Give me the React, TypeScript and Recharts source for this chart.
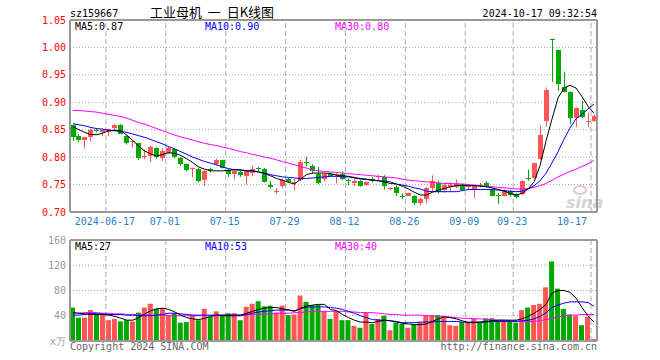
import React from 'react';
import { ComposedChart, Bar, Line, XAxis, YAxis, CartesianGrid, ReferenceLine, Cell } from 'recharts';

const RED = '#ff5555';
const GREEN = '#00a800';
const GRID = '#aaaaaa';
const FRAME = '#999999';
const MONO = '"DejaVu Sans Mono", monospace';

// trading days shown on the chart
const dates = [
  '2024-06-06', '2024-06-07', '2024-06-11', '2024-06-12', '2024-06-13', '2024-06-14', '2024-06-17', '2024-06-18',
  '2024-06-19', '2024-06-20', '2024-06-21', '2024-06-24', '2024-06-25', '2024-06-26', '2024-06-27', '2024-06-28',
  '2024-07-01', '2024-07-02', '2024-07-03', '2024-07-04', '2024-07-05', '2024-07-08', '2024-07-09', '2024-07-10',
  '2024-07-11', '2024-07-12', '2024-07-15', '2024-07-16', '2024-07-17', '2024-07-18', '2024-07-19', '2024-07-22',
  '2024-07-23', '2024-07-24', '2024-07-25', '2024-07-26', '2024-07-29', '2024-07-30', '2024-07-31', '2024-08-01',
  '2024-08-02', '2024-08-05', '2024-08-06', '2024-08-07', '2024-08-08', '2024-08-09', '2024-08-12', '2024-08-13',
  '2024-08-14', '2024-08-15', '2024-08-16', '2024-08-19', '2024-08-20', '2024-08-21', '2024-08-22', '2024-08-23',
  '2024-08-26', '2024-08-27', '2024-08-28', '2024-08-29', '2024-08-30', '2024-09-02', '2024-09-03', '2024-09-04',
  '2024-09-05', '2024-09-06', '2024-09-09', '2024-09-10', '2024-09-11', '2024-09-12', '2024-09-13', '2024-09-18',
  '2024-09-19', '2024-09-20', '2024-09-23', '2024-09-24', '2024-09-25', '2024-09-26', '2024-09-27', '2024-09-30',
  '2024-10-08', '2024-10-09', '2024-10-10', '2024-10-11', '2024-10-14', '2024-10-15', '2024-10-16', '2024-10-17',
];

const open = [
  0.858, 0.839, 0.831, 0.837, 0.849, 0.845, 0.846, 0.853, 0.859, 0.838, 0.827, 0.826, 0.801, 0.802, 0.817, 0.799,
  0.808, 0.814, 0.799, 0.787, 0.778, 0.779, 0.759, 0.778, 0.787, 0.794, 0.777, 0.769, 0.773, 0.765, 0.771, 0.780,
  0.779, 0.749, 0.737, 0.748, 0.760, 0.752, 0.758, 0.792, 0.783, 0.769, 0.760, 0.770, 0.767, 0.770, 0.759, 0.753,
  0.757, 0.749, 0.760, 0.763, 0.764, 0.742, 0.746, 0.730, 0.730, 0.730, 0.716, 0.723, 0.743, 0.752, 0.740, 0.745,
  0.746, 0.750, 0.745, 0.741, 0.750, 0.752, 0.741, 0.731, 0.730, 0.738, 0.732, 0.733, 0.762, 0.762, 0.796, 0.866,
  1.016, 0.995, 0.927, 0.919, 0.872, 0.886, 0.864, 0.865,
];
const high = [
  0.859, 0.843, 0.837, 0.852, 0.853, 0.852, 0.852, 0.860, 0.860, 0.840, 0.831, 0.826, 0.814, 0.821, 0.818, 0.816,
  0.819, 0.815, 0.800, 0.788, 0.781, 0.780, 0.777, 0.781, 0.797, 0.795, 0.779, 0.776, 0.775, 0.777, 0.785, 0.782,
  0.780, 0.757, 0.744, 0.761, 0.762, 0.760, 0.795, 0.800, 0.787, 0.782, 0.771, 0.772, 0.772, 0.774, 0.761, 0.761,
  0.758, 0.756, 0.764, 0.768, 0.767, 0.745, 0.749, 0.734, 0.735, 0.731, 0.726, 0.746, 0.767, 0.757, 0.753, 0.755,
  0.759, 0.752, 0.750, 0.749, 0.753, 0.756, 0.743, 0.735, 0.741, 0.740, 0.734, 0.758, 0.777, 0.790, 0.858, 0.927,
  1.016, 0.995, 0.956, 0.920, 0.891, 0.902, 0.881, 0.877,
];
const low = [
  0.830, 0.827, 0.816, 0.829, 0.845, 0.838, 0.838, 0.849, 0.842, 0.823, 0.817, 0.795, 0.796, 0.791, 0.797, 0.793,
  0.806, 0.798, 0.784, 0.774, 0.763, 0.754, 0.747, 0.772, 0.784, 0.779, 0.764, 0.759, 0.764, 0.750, 0.765, 0.775,
  0.754, 0.743, 0.733, 0.743, 0.753, 0.740, 0.756, 0.783, 0.770, 0.751, 0.756, 0.765, 0.752, 0.758, 0.749, 0.747,
  0.746, 0.748, 0.754, 0.756, 0.741, 0.740, 0.729, 0.724, 0.729, 0.712, 0.712, 0.716, 0.737, 0.734, 0.735, 0.737,
  0.743, 0.739, 0.742, 0.726, 0.745, 0.745, 0.729, 0.715, 0.729, 0.728, 0.725, 0.731, 0.757, 0.761, 0.795, 0.856,
  0.937, 0.921, 0.918, 0.860, 0.855, 0.871, 0.855, 0.864,
];
const close = [
  0.837, 0.831, 0.836, 0.849, 0.847, 0.849, 0.851, 0.858, 0.843, 0.826, 0.829, 0.798, 0.802, 0.818, 0.800, 0.811,
  0.817, 0.801, 0.787, 0.777, 0.780, 0.757, 0.775, 0.776, 0.794, 0.781, 0.769, 0.775, 0.767, 0.776, 0.779, 0.778,
  0.755, 0.745, 0.739, 0.759, 0.755, 0.755, 0.791, 0.790, 0.774, 0.752, 0.769, 0.766, 0.769, 0.760, 0.757, 0.756,
  0.747, 0.755, 0.758, 0.765, 0.747, 0.744, 0.734, 0.729, 0.734, 0.716, 0.723, 0.743, 0.757, 0.737, 0.750, 0.750,
  0.753, 0.740, 0.748, 0.747, 0.749, 0.748, 0.730, 0.729, 0.739, 0.731, 0.727, 0.757, 0.760, 0.789, 0.840, 0.923,
  1.015, 0.934, 0.919, 0.872, 0.889, 0.873, 0.866, 0.875,
];

// moving averages as drawn on the price panel
const ma5 = [
  0.855, 0.850, 0.845, 0.841, 0.841, 0.844, 0.848, 0.849, 0.848, 0.840, 0.830, 0.820, 0.811, 0.806, 0.802, 0.805,
  0.808, 0.807, 0.803, 0.797, 0.790, 0.782, 0.778, 0.775, 0.775, 0.775, 0.776, 0.777, 0.777, 0.775, 0.775, 0.773,
  0.770, 0.766, 0.761, 0.758, 0.754, 0.751, 0.760, 0.768, 0.771, 0.771, 0.771, 0.770, 0.767, 0.766, 0.765, 0.763,
  0.761, 0.760, 0.758, 0.757, 0.755, 0.752, 0.751, 0.747, 0.742, 0.736, 0.731, 0.731, 0.736, 0.740, 0.743, 0.746,
  0.748, 0.749, 0.748, 0.748, 0.747, 0.746, 0.744, 0.741, 0.738, 0.734, 0.731, 0.734, 0.742, 0.755, 0.785, 0.830,
  0.870, 0.908, 0.926, 0.931, 0.926, 0.910, 0.893, 0.880,
];
const ma10 = [
  0.861, 0.859, 0.857, 0.854, 0.852, 0.851, 0.849, 0.848, 0.847, 0.845, 0.842, 0.839, 0.836, 0.832, 0.828, 0.824,
  0.819, 0.815, 0.810, 0.805, 0.800, 0.796, 0.792, 0.789, 0.786, 0.782, 0.779, 0.777, 0.776, 0.775, 0.775, 0.773,
  0.771, 0.768, 0.766, 0.764, 0.763, 0.762, 0.761, 0.761, 0.762, 0.763, 0.764, 0.765, 0.765, 0.764, 0.764, 0.762,
  0.760, 0.759, 0.758, 0.757, 0.756, 0.755, 0.751, 0.749, 0.747, 0.744, 0.742, 0.738, 0.737, 0.737, 0.737, 0.737,
  0.737, 0.739, 0.741, 0.741, 0.741, 0.741, 0.741, 0.740, 0.739, 0.738, 0.737, 0.738, 0.742, 0.748, 0.757, 0.771,
  0.790, 0.810, 0.833, 0.853, 0.870, 0.878, 0.888, 0.897,
];
const ma30 = [
  0.885, 0.885, 0.884, 0.883, 0.882, 0.880, 0.878, 0.876, 0.874, 0.871, 0.867, 0.863, 0.860, 0.856, 0.852, 0.848,
  0.844, 0.840, 0.837, 0.834, 0.831, 0.828, 0.825, 0.823, 0.821, 0.818, 0.816, 0.813, 0.810, 0.808, 0.805, 0.803,
  0.800, 0.798, 0.795, 0.792, 0.789, 0.786, 0.783, 0.780, 0.777, 0.775, 0.774, 0.773, 0.772, 0.771, 0.770, 0.769,
  0.768, 0.767, 0.766, 0.765, 0.764, 0.763, 0.762, 0.760, 0.758, 0.757, 0.756, 0.755, 0.754, 0.753, 0.752, 0.752,
  0.751, 0.751, 0.750, 0.749, 0.748, 0.747, 0.746, 0.745, 0.744, 0.743, 0.742, 0.742, 0.743, 0.745, 0.748, 0.752,
  0.758, 0.764, 0.769, 0.774, 0.778, 0.783, 0.788, 0.794,
];

// volume panel (万)
const volume = [
  53, 37, 37, 49, 42, 42, 33, 35, 31, 33, 31, 45, 53, 59, 51, 52, 41, 44, 29, 30, 41, 33, 51, 38, 47, 41, 44, 44, 33, 54,
  59, 63, 55, 56, 45, 56, 41, 42, 72, 62, 57, 57, 47, 35, 47, 33, 33, 24, 21, 45, 27, 35, 40, 17, 29, 27, 21, 26, 30, 41,
  41, 41, 40, 25, 24, 30, 29, 36, 30, 36, 36, 33, 33, 30, 29, 49, 53, 57, 59, 85, 126, 83, 51, 42, 40, 25, 38, 3,
];
const volMa5 = [
  45, 44, 43, 42, 42, 42, 41, 39, 36, 33, 33, 37, 43, 48, 51, 52, 50, 46, 41, 37, 35, 34, 36, 39, 41, 41, 41, 41, 41, 44,
  47, 50, 52, 53, 53, 51, 49, 47, 52, 55, 57, 58, 58, 50, 48, 42, 37, 33, 30, 30, 29, 31, 33, 32, 30, 28, 27, 26, 26, 27,
  31, 35, 38, 37, 35, 32, 29, 29, 30, 31, 32, 33, 33, 33, 33, 35, 39, 44, 50, 58, 76, 80, 80, 77, 68, 53, 40, 30,
];
const volMa10 = [
  41, 41, 42, 44, 43, 43, 42, 42, 42, 41, 41, 40, 40, 40, 41, 42, 44, 44, 43, 42, 41, 41, 41, 41, 41, 40, 40, 40, 40, 42,
  44, 46, 47, 48, 49, 49, 49, 48, 51, 54, 54, 54, 54, 53, 52, 50, 47, 44, 40, 37, 34, 33, 33, 32, 31, 29, 29, 29, 30, 30,
  30, 31, 31, 31, 31, 30, 30, 30, 30, 30, 31, 31, 31, 31, 31, 32, 33, 35, 39, 45, 53, 57, 60, 62, 62, 62, 61, 55,
];
const volMa30 = [
  44, 44, 45, 45, 45, 44, 44, 43, 43, 42, 42, 42, 42, 41, 41, 41, 40, 40, 40, 40, 40, 40, 40, 40, 40, 41, 41, 41, 41, 41,
  42, 42, 43, 43, 44, 44, 44, 45, 45, 46, 47, 47, 47, 47, 47, 47, 46, 46, 45, 45, 45, 44, 43, 42, 42, 41, 41, 41, 41, 40,
  40, 39, 39, 38, 37, 36, 36, 35, 35, 34, 34, 33, 33, 32, 32, 31, 31, 31, 32, 34, 36, 38, 40, 41, 41, 42, 42, 42,
];

const tickDates = [
  '2024-06-17', '2024-07-01', '2024-07-15', '2024-07-29', '2024-08-12',
  '2024-08-26', '2024-09-09', '2024-09-23', '2024-10-17',
];
const priceTicks = [0.7, 0.75, 0.8, 0.85, 0.9, 0.95, 1.0, 1.05];
const volTicks = [0, 40, 80, 120, 160];

const priceLegend = { ma5: 'MA5:0.87', ma10: 'MA10:0.90', ma30: 'MA30:0.80' };
const volLegend = { ma5: 'MA5:27', ma10: 'MA10:53', ma30: 'MA30:40' };

const rows = dates.map((date, i) => ({
  date,
  open: open[i],
  high: high[i],
  low: low[i],
  close: close[i],
  range: [low[i], high[i]],
  ma5: ma5[i],
  ma10: ma10[i],
  ma30: ma30[i],
  vol: volume[i],
  vma5: volMa5[i],
  vma10: volMa10[i],
  vma30: volMa30[i],
}));

const candleColor = (i: number) => (close[i] > open[i] ? RED : GREEN);

const Candle = (props: any) => {
  const { x, y, width, height, payload } = props;
  if (x == null || y == null) return null;
  const top = Math.min(y, y + height);
  const bottom = Math.max(y, y + height);
  const span = payload.high - payload.low;
  const toPx = (v: number) => top + ((payload.high - v) / span) * (bottom - top);
  const cx = Math.round(x + width / 2);
  const color = payload.close > payload.open ? RED : GREEN;
  const bTop = Math.round(toPx(Math.max(payload.open, payload.close)));
  const bBot = Math.round(toPx(Math.min(payload.open, payload.close)));
  return (
    <g>
      <line x1={cx + 0.5} x2={cx + 0.5} y1={top} y2={bottom} stroke={color} strokeWidth={1} />
      <rect x={cx - 2} y={bTop} width={5} height={Math.max(1, bBot - bTop)} fill={color} />
    </g>
  );
};

const DateTick = (props: any) => {
  const { x, y, payload } = props;
  const i = tickDates.indexOf(payload.value);
  const last = i === tickDates.length - 1;
  const label = i === 0 ? payload.value : String(payload.value).slice(5);
  return (
    <text
      x={last ? x - 7 : x - 4}
      y={y + 13}
      textAnchor={last ? 'end' : 'middle'}
      fill="#1f80d0"
      fontSize={10}
      fontFamily={MONO}
    >
      {label}
    </text>
  );
};

function PriceChart() {
  return (
    <ComposedChart width={660} height={232} data={rows} margin={{ top: 20, right: 63, bottom: 0, left: 0 }}>
      <CartesianGrid vertical={false} stroke={GRID} strokeDasharray="1 2" />
      {tickDates.map((d) => (
        <ReferenceLine key={d} x={d} position="start" stroke={GRID} strokeDasharray="5 3" />
      ))}
      <XAxis
        dataKey="date"
        ticks={tickDates}
        interval={0}
        height={20}
        tickSize={0}
        tickMargin={0}
        tickLine={false}
        axisLine={{ stroke: FRAME, strokeWidth: 2 }}
        tick={<DateTick />}
      />
      <YAxis
        width={70}
        domain={[0.7, 1.05]}
        ticks={priceTicks}
        allowDataOverflow
        tickSize={0}
        tickMargin={4}
        tickLine={false}
        axisLine={{ stroke: FRAME, strokeWidth: 2 }}
        tickFormatter={(v: number) => v.toFixed(2)}
        tick={{ fill: '#ff0000', fontSize: 10, fontFamily: MONO }}
      />
      <ReferenceLine y={1.05} stroke={FRAME} strokeWidth={2} />
      <ReferenceLine x={dates[dates.length - 1]} position="end" stroke={FRAME} strokeWidth={2} />
      <Bar dataKey="range" barSize={5} shape={<Candle />} isAnimationActive={false} />
      <Line type="linear" dataKey="ma30" stroke="#ff00ff" strokeWidth={1} dot={false} isAnimationActive={false} />
      <Line type="linear" dataKey="ma10" stroke="#0000ff" strokeWidth={1} dot={false} isAnimationActive={false} />
      <Line type="linear" dataKey="ma5" stroke="#000000" strokeWidth={1} dot={false} isAnimationActive={false} />
    </ComposedChart>
  );
}

function VolumeChart() {
  return (
    <ComposedChart width={660} height={128} data={rows} margin={{ top: 8, right: 63, bottom: 19, left: 0 }}>
      <CartesianGrid vertical={false} stroke={GRID} strokeDasharray="1 2" />
      {tickDates.map((d) => (
        <ReferenceLine key={d} x={d} position="start" stroke={GRID} strokeDasharray="5 3" />
      ))}
      <XAxis dataKey="date" hide />
      <YAxis
        width={70}
        domain={[0, 160]}
        ticks={volTicks}
        allowDataOverflow
        tickSize={0}
        tickMargin={4}
        tickLine={false}
        axisLine={{ stroke: FRAME, strokeWidth: 2 }}
        tickFormatter={(v: number) => (v === 0 ? 'x万' : String(v))}
        tick={{ fill: '#999999', fontSize: 10, fontFamily: MONO }}
      />
      <ReferenceLine y={160} stroke={FRAME} strokeWidth={2} />
      <ReferenceLine y={0} stroke={FRAME} strokeWidth={2} />
      <ReferenceLine x={dates[dates.length - 1]} position="end" stroke={FRAME} strokeWidth={2} />
      <Bar dataKey="vol" barSize={5} isAnimationActive={false}>
        {rows.map((r, i) => (
          <Cell key={r.date} fill={candleColor(i)} />
        ))}
      </Bar>
      <Line type="linear" dataKey="vma30" stroke="#ff00ff" strokeWidth={1} dot={false} isAnimationActive={false} />
      <Line type="linear" dataKey="vma10" stroke="#0000ff" strokeWidth={1} dot={false} isAnimationActive={false} />
      <Line type="linear" dataKey="vma5" stroke="#000000" strokeWidth={1} dot={false} isAnimationActive={false} />
    </ComposedChart>
  );
}

export default function App() {
  const txt = { fontFamily: MONO, fontSize: 10 };
  return (
    <div style={{ position: 'absolute', left: 0, top: 0, width: 660, height: 360, background: '#fff', overflow: 'hidden' }}>
      <svg width={660} height={360} style={{ position: 'absolute', left: 0, top: 0 }}>
        <text x={70} y={17} {...txt} fill="#000">sz159667</text>
        <text x={150} y={17} fontFamily='"Noto Sans CJK SC", sans-serif' fontSize={13} fill="#000" style={{ whiteSpace: 'pre' }}>
          {'工业母机  一  日K线图'}
        </text>
        <text x={597} y={17} {...txt} fill="#000" textAnchor="end">2024-10-17 09:32:54</text>
        <text x={75} y={30} {...txt} fill="#000">{priceLegend.ma5}</text>
        <text x={205} y={30} {...txt} fill="#0000ff">{priceLegend.ma10}</text>
        <text x={335} y={30} {...txt} fill="#ff00ff">{priceLegend.ma30}</text>
        <text x={75} y={250} {...txt} fill="#000">{volLegend.ma5}</text>
        <text x={205} y={250} {...txt} fill="#0000ff">{volLegend.ma10}</text>
        <text x={335} y={250} {...txt} fill="#ff00ff">{volLegend.ma30}</text>
        <text x={70} y={350} {...txt} fill="#666">Copyright 2024 SINA.COM</text>
        <text x={597} y={350} {...txt} fill="#666" textAnchor="end">http://finance.sina.com.cn</text>
        <ellipse cx={580} cy={190} rx={6} ry={4} fill="none" stroke="#e6c8c8" strokeWidth={2} />
        <text x={566} y={208} fontFamily="DejaVu Sans, sans-serif" fontSize={16} fontWeight="bold" fontStyle="italic" fill="#d4d4d4">sina</text>
      </svg>
      <div style={{ position: 'absolute', left: 0, top: 0 }}>
        <PriceChart />
      </div>
      <div style={{ position: 'absolute', left: 0, top: 232 }}>
        <VolumeChart />
      </div>
    </div>
  );
}
